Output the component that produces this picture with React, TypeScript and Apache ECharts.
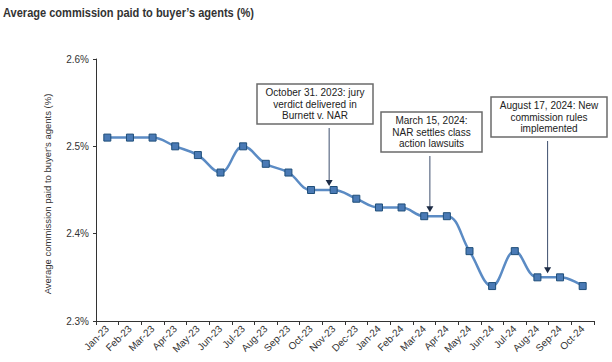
import React, { useEffect, useRef } from "react";
import * as echarts from "echarts";

const categories = [
  "Jan-23", "Feb-23", "Mar-23", "Apr-23", "May-23", "Jun-23", "Jul-23", "Aug-23",
  "Sep-23", "Oct-23", "Nov-23", "Dec-23", "Jan-24", "Feb-24", "Mar-24", "Apr-24",
  "May-24", "Jun-24", "Jul-24", "Aug-24", "Sep-24", "Oct-24",
];
const commission = [
  2.51, 2.51, 2.51, 2.5, 2.49, 2.47, 2.5, 2.48, 2.47, 2.45, 2.45, 2.44, 2.43, 2.43,
  2.42, 2.42, 2.38, 2.34, 2.38, 2.35, 2.35, 2.34,
];
const yMin = 2.3;
const yMax = 2.6;
const yStep = 0.1;

const titleText = "Average commission paid to buyer\u2019s agents (%)";
const yAxisName = "Average commission paid to buyer's agents (%)";

const annotationLines = [
  ["October 31. 2023: jury", "verdict delivered in", "Burnett v. NAR"],
  ["March 15, 2024:", "NAR settles class", "action lawsuits"],
  ["August 17, 2024: New", "commission rules", "implemented"],
];
// fractional category position the arrow points at
const annotationAt = [9.8, 14.25, 19.45];
// box layout [x, y, w, h]
const annotationBox = [
  [257, 84, 116, 40],
  [381, 112, 101, 40],
  [491, 97, 116, 40],
];

export default function App() {
  const ref = useRef<HTMLDivElement>(null);
  useEffect(() => {
    document.body.style.margin = "0";
    const chart = echarts.init(ref.current!, undefined, { renderer: "svg" });
    const font = "'Liberation Sans', Arial, sans-serif";
    chart.setOption({
      animation: false,
      backgroundColor: "#ffffff",
      grid: { left: 96, right: 18, top: 59, bottom: 41, containLabel: false },
      xAxis: {
        type: "category",
        data: categories,
        boundaryGap: true,
        axisLine: { lineStyle: { color: "#333333", width: 1 } },
        axisTick: { show: true, length: 4, lineStyle: { color: "#333333" } },
        axisLabel: {
          rotate: 45,
          interval: 0,
          fontSize: 10,
          fontFamily: font,
          color: "#333333",
          margin: 6,
        },
      },
      yAxis: {
        type: "value",
        min: yMin,
        max: yMax,
        interval: yStep,
        splitLine: { show: false },
        axisLine: { show: true, lineStyle: { color: "#333333", width: 1 } },
        axisTick: { show: true, length: 3, lineStyle: { color: "#333333" } },
        axisLabel: {
          fontSize: 10,
          fontFamily: font,
          color: "#333333",
          margin: 7,
          formatter: (v: number) => v.toFixed(1) + "%",
        },
        name: yAxisName,
        nameLocation: "middle",
        nameRotate: 90,
        nameGap: 44,
        nameTextStyle: { fontSize: 9.5, fontFamily: font, color: "#333333", padding: [0, 8, 0, 0] },
      },
      series: [
        {
          type: "line",
          data: commission,
          smooth: 0.4,
          symbol: "rect",
          symbolSize: 7,
          lineStyle: { color: "#5b8bc4", width: 2.5 },
          itemStyle: { color: "#4a7ab5", borderColor: "#1f4e79", borderWidth: 1 },
        },
      ],
    });

    const graphics: any[] = [
      {
        type: "text",
        x: 3,
        y: 13,
        scaleX: 0.85,
        style: {
          text: titleText,
          font: "bold 13px 'Liberation Sans', Arial, sans-serif",
          fill: "#333333",
          align: "left",
          verticalAlign: "middle",
        },
      },
    ];
    annotationLines.forEach((lines, i) => {
      const [bx, by, bw, bh] = annotationBox[i];
      graphics.push({
        type: "rect",
        shape: { x: bx, y: by, width: bw, height: bh },
        style: { fill: "#ffffff", stroke: "#6b6b6b", lineWidth: 1.5 },
        z: 100,
      });
      graphics.push({
        type: "text",
        x: bx + bw / 2,
        y: by + bh / 2,
        style: {
          text: lines.join("\n"),
          font: "10px " + font,
          fill: "#222222",
          align: "center",
          verticalAlign: "middle",
          lineHeight: 11.5,
        },
        z: 101,
      });
      const at = annotationAt[i];
      const i0 = Math.floor(at);
      const i1 = Math.min(i0 + 1, commission.length - 1);
      const f = at - i0;
      const x0 = chart.convertToPixel({ xAxisIndex: 0 }, i0) as number;
      const x1 = chart.convertToPixel({ xAxisIndex: 0 }, i1) as number;
      const x = x0 + (x1 - x0) * f;
      const v = commission[i0] + (commission[i1] - commission[i0]) * f;
      const tipY = (chart.convertToPixel({ yAxisIndex: 0 }, v) as number) - 4;
      const startY = by + bh + 4;
      graphics.push({
        type: "line",
        shape: { x1: x, y1: startY, x2: x, y2: tipY - 5 },
        style: { stroke: "#3d4f6e", lineWidth: 1 },
        z: 100,
      });
      graphics.push({
        type: "polygon",
        shape: { points: [[x - 3.5, tipY - 6], [x + 3.5, tipY - 6], [x, tipY]] },
        style: { fill: "#1c2b45" },
        z: 100,
      });
    });
    chart.setOption({ graphic: graphics });

    return () => chart.dispose();
  }, []);
  return (
    <div
      ref={ref}
      style={{ position: "absolute", left: 0, top: 0, width: 612, height: 362, background: "#fff" }}
    />
  );
}
